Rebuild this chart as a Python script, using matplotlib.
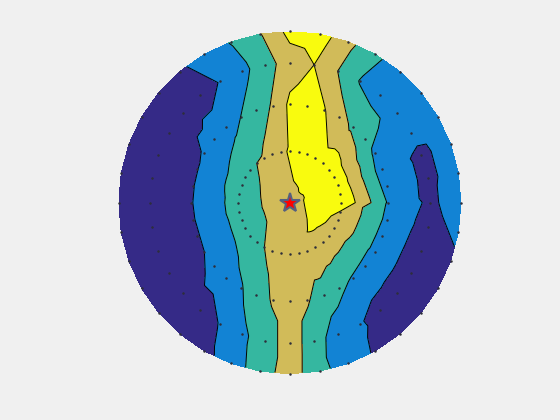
import numpy as np
import matplotlib
matplotlib.use("Agg")
import matplotlib.pyplot as plt
import matplotlib.tri as mtri

# sample rings: radius (normalised) and azimuth of each sensor, 10 deg apart
angles_deg = list(range(0, 360, 10))
ring_radius = [1.0, 0.818, 0.576, 0.30]

# values per ring (angle 0 = east, counter-clockwise)
ring1_values = [2.0, 1.9, 1.9, 2.0, 2.0, 2.0, 2.7, 3.8, 5.0, 4.8, 3.45, 2.55,
                2.0, 1.3, 1.0, 1.0, 1.0, 1.0, 1.0, 1.0, 1.0, 1.0, 1.0, 1.0,
                1.2, 2.0, 3.0, 4.0, 2.8, 2.0, 1.4, 1.1, 1.0, 1.0, 1.3, 1.7]
ring2_values = [1.3, 1.3, 1.3, 1.8, 2.0, 2.1, 2.45, 3.5, 4.5, 4.0, 3.1, 2.2,
                1.55, 1.0, 1.0, 1.0, 1.0, 1.0, 1.0, 1.0, 1.0, 1.0, 1.0, 1.0,
                1.55, 2.3, 3.0, 4.0, 3.0, 2.0, 1.6, 1.1, 1.0, 1.0, 1.0, 1.1]
ring3_values = [2.4, 2.1, 2.0, 2.3, 2.85, 3.3, 3.9, 4.6, 5.0, 4.7, 3.6, 3.0,
                2.5, 2.1, 1.8, 1.55, 1.47, 1.45, 1.45, 1.43, 1.42, 1.5, 1.7, 2.0,
                2.4, 3.0, 3.6, 4.0, 3.6, 3.1, 2.7, 2.4, 2.25, 2.2, 2.2, 2.3]
ring4_values = [5.4, 5.3, 5.2, 5.2, 5.3, 5.3, 5.1, 5.0, 4.9, 4.6, 4.3, 3.9,
                3.6, 3.5, 3.3, 3.15, 3.05, 2.98, 2.93, 2.92, 2.89, 2.92, 3.0, 3.23,
                3.49, 3.75, 4.0, 4.2, 4.2, 4.2, 4.2, 4.2, 4.2, 4.3, 4.4, 4.45]
center_value = 4.2
# extra node below the star (no marker drawn there)
extra_x, extra_y, extra_value = 0.135, -0.129, 4.6

levels = [0.5, 1.5, 2.5, 3.5, 4.5, 5.5]
colors = ["#352a87", "#1283d4", "#35b7a0", "#d1bb59", "#f9fb0e"]

ring_values = [ring1_values, ring2_values, ring3_values, ring4_values]
theta = np.deg2rad(angles_deg)

dot_x, dot_y, z = [], [], []
for r, vals in zip(ring_radius, ring_values):
    dot_x.extend(r * np.cos(theta))
    dot_y.extend(r * np.sin(theta))
    z.extend(vals)

x = np.array(dot_x + [0.0, extra_x])
y = np.array(dot_y + [0.0, extra_y])
z = np.array(z + [center_value, extra_value])

fig = plt.figure(figsize=(5.6, 4.2), dpi=100, facecolor="#f0f0f0")
ax = fig.add_axes([0.13, 0.11, 0.775, 0.815])
ax.set_facecolor("#f0f0f0")

tri = mtri.Triangulation(x, y)
ax.tricontourf(tri, z, levels=levels, colors=colors)
ax.tricontour(tri, z, levels=levels[1:-1], colors="k", linewidths=0.7)

ax.plot(dot_x, dot_y, "o", ms=1.8, mew=0, color="#2e2e3a", clip_on=False)
ax.plot(0, 0, "*", ms=15, mfc="red", mec="#56607e", mew=1.5)

ax.set_xlim(-1, 1)
ax.set_ylim(-1, 1)
ax.set_aspect("equal")
ax.axis("off")

fig.savefig("out.png", dpi=100, facecolor=fig.get_facecolor())
